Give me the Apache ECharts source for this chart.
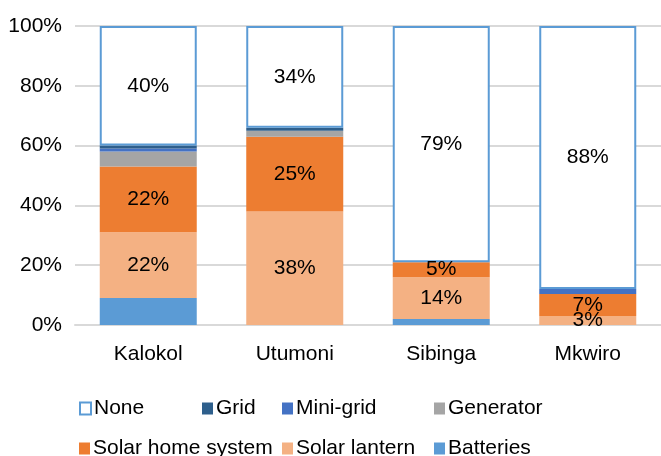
<!DOCTYPE html>
<html>
<head>
<meta charset="utf-8">
<script src="https://cdn.jsdelivr.net/npm/echarts@6/dist/echarts.min.js"></script>
<style>
  html, body { margin: 0; padding: 0; background: #fff; }
  #chart { width: 661px; height: 456px; }
</style>
</head>
<body>
<div id="chart"></div>
<script>
// data (percent of households)
const sites = ['Kalokol', 'Utumoni', 'Sibinga', 'Mkwiro'];
const batteries = [9, 0, 2, 0];
const solarLantern = [22, 38, 14, 3];
const solarHome = [22, 25, 5, 7.4];
const generator = [5, 2, 0, 0];
const miniGrid = [1, 0, 0, 1.6];
const grid = [1, 1, 0, 0];
const none = [40, 34, 79, 88];
const yTicks = ['0%', '20%', '40%', '60%', '80%', '100%'];

const font = 'Liberation Sans, Arial, sans-serif';
const fs = 21;

function lbl(show) {
  return {
    show: show,
    position: 'inside',
    color: '#000',
    fontSize: fs,
    fontFamily: font,
    formatter: p => (p.value > 0 ? Math.round(p.value) + '%' : '')
  };
}

const seriesDefs = [
  { name: 'Batteries', data: batteries, color: '#5B9BD5', label: false },
  { name: 'Solar lantern', data: solarLantern, color: '#F4B183', label: true },
  { name: 'Solar home system', data: solarHome, color: '#ED7D31', label: true },
  { name: 'Generator', data: generator, color: '#A5A5A5', label: false },
  { name: 'Mini-grid', data: miniGrid, color: '#4472C4', label: false },
  { name: 'Grid', data: grid, color: '#2E5F8C', label: false },
  { name: 'None', data: none, color: '#FFFFFF', label: true, border: '#5B9BD5' }
];

const series = seriesDefs.map(d => ({
  name: d.name,
  type: 'bar',
  stack: 'all',
  barWidth: 97,
  data: d.data,
  itemStyle: d.border
    ? { color: d.color, borderColor: d.border, borderWidth: 2 }
    : { color: d.color },
  label: lbl(d.label),
  emphasis: { disabled: true }
}));

// one legend per item so positions match the reference
const legendPos = [
  ['None', 79, 398],
  ['Grid', 202, 398],
  ['Mini-grid', 282, 398],
  ['Generator', 434, 398],
  ['Solar home system', 79, 438],
  ['Solar lantern', 282, 438],
  ['Batteries', 434, 438]
];
const legends = legendPos.map(l => ({
  data: [l[0] === 'None'
    ? { name: 'None', itemStyle: { color: '#fff', borderColor: '#5B9BD5', borderWidth: 2 } }
    : l[0]],
  left: l[1],
  top: l[2],
  padding: 0,
  icon: 'rect',
  itemWidth: 11,
  itemHeight: 12,
  itemGap: 0,
  textStyle: { fontSize: fs, fontFamily: font, color: '#000', padding: [0, 0, 0, -2] },
  selectedMode: false
}));

const myChart = echarts.init(document.getElementById('chart'), null, { renderer: 'canvas' });
const option = {
  animation: false,
  textStyle: { fontFamily: font },
  grid: { left: 75, top: 26, width: 588, height: 299, containLabel: false },
  legend: legends,
  xAxis: {
    type: 'category',
    data: sites,
    axisLine: { lineStyle: { color: '#D9D9D9', width: 2 } },
    axisTick: { show: false },
    axisLabel: { color: '#000', fontSize: fs, fontFamily: font, margin: 19 }
  },
  yAxis: {
    type: 'value',
    min: 0,
    max: 100,
    interval: 20,
    axisLine: { show: false },
    axisTick: { show: false },
    splitLine: { lineStyle: { color: '#D9D9D9', width: 2 } },
    axisLabel: {
      color: '#000',
      fontSize: fs,
      fontFamily: font,
      margin: 13,
      formatter: v => yTicks[Math.round(v / 20)]
    }
  },
  series: series
};
option && myChart.setOption(option);
</script>
</body>
</html>
